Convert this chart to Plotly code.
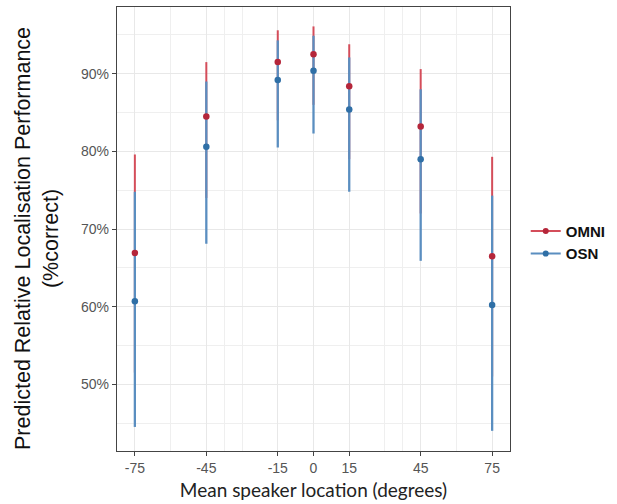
import plotly.graph_objects as go

locations = [-75, -45, -15, 0, 15, 45, 75]
x_tick_labels = ["-75", "-45", "-15", "0", "15", "45", "75"]

omni_mean = [0.669, 0.845, 0.915, 0.925, 0.884, 0.832, 0.665]
omni_low = [0.515, 0.740, 0.840, 0.860, 0.790, 0.720, 0.510]
omni_high = [0.796, 0.915, 0.956, 0.961, 0.938, 0.906, 0.793]

osn_mean = [0.607, 0.806, 0.892, 0.904, 0.854, 0.790, 0.602]
osn_low = [0.445, 0.681, 0.805, 0.823, 0.748, 0.659, 0.440]
osn_high = [0.748, 0.890, 0.943, 0.949, 0.921, 0.880, 0.743]

y_tick_vals = [0.5, 0.6, 0.7, 0.8, 0.9]
y_tick_labels = ["50%", "60%", "70%", "80%", "90%"]

red_line = "#d44d5a"
red_pt = "#b5263a"
blue_line = "#5a8ec0"
blue_pt = "#2f6fa6"

def bars(mean, lo, hi, color, thick):
    return dict(type="data", symmetric=False,
                array=[h - m for h, m in zip(hi, mean)],
                arrayminus=[m - l for m, l in zip(mean, lo)],
                color=color, thickness=thick, width=0)

fig = go.Figure()
fig.add_trace(go.Scatter(x=locations, y=omni_mean, mode="markers",
                         marker=dict(size=1, color="rgba(0,0,0,0)"),
                         error_y=bars(omni_mean, omni_low, omni_high, red_line, 2),
                         showlegend=False, hoverinfo="skip"))
fig.add_trace(go.Scatter(x=locations, y=osn_mean, mode="markers",
                         marker=dict(size=1, color="rgba(0,0,0,0)"),
                         error_y=bars(osn_mean, osn_low, osn_high, blue_line, 2.3),
                         showlegend=False, hoverinfo="skip"))
fig.add_trace(go.Scatter(x=locations, y=omni_mean, mode="markers",
                         marker=dict(size=6.5, color=red_pt), showlegend=False))
fig.add_trace(go.Scatter(x=locations, y=osn_mean, mode="markers",
                         marker=dict(size=6.5, color=blue_pt), showlegend=False))
fig.add_trace(go.Scatter(x=[None], y=[None], mode="lines+markers", name="OMNI",
                         line=dict(color=red_line, width=2),
                         marker=dict(size=6, color=red_pt)))
fig.add_trace(go.Scatter(x=[None], y=[None], mode="lines+markers", name="OSN",
                         line=dict(color=blue_line, width=2),
                         marker=dict(size=6, color=blue_pt)))

axis_common = dict(showline=True, mirror=True, linecolor="#444444", linewidth=1.3,
                   ticks="outside", ticklen=4, tickwidth=1, tickcolor="#444444",
                   gridcolor="#e8e8e8", gridwidth=1, zeroline=False,
                   tickfont=dict(family="Liberation Sans, Arial", size=14, color="#555555"))

fig.update_layout(
    width=617, height=504,
    margin=dict(l=117, r=107, t=7, b=53, autoexpand=False),
    plot_bgcolor="white", paper_bgcolor="white",
    xaxis=dict(range=[-82.5, 82.5], tickmode="array", tickvals=locations,
               ticktext=x_tick_labels,
               minor=dict(tickmode="array", tickvals=[-60, -37.5, -30, 30, 37.5, 60],
                          showgrid=True, gridcolor="#efefef", gridwidth=1, ticks=""),
               title=dict(text="Mean speaker location (degrees)",
                          font=dict(family="Lato, Liberation Sans", size=19, color="#222222"),
                          standoff=8),
               **axis_common),
    yaxis=dict(range=[0.414, 0.986], tickmode="array", tickvals=y_tick_vals,
               ticktext=y_tick_labels,
               minor=dict(tickmode="array", tickvals=[0.45, 0.55, 0.65, 0.75, 0.85, 0.95],
                          showgrid=True, gridcolor="#efefef", gridwidth=1, ticks=""),
               **axis_common),
    legend=dict(x=1.04, y=0.47, xanchor="left", yanchor="middle",
                font=dict(family="Liberation Sans, Arial", size=15, color="#111111",
                          weight="bold"),
                bgcolor="rgba(0,0,0,0)", tracegroupgap=0, itemwidth=30),
    showlegend=True,
    annotations=[dict(text="Predicted Relative Localisation Performance<br>(%correct)",
                      xref="paper", yref="paper", x=-0.203, y=0.478,
                      xanchor="center", yanchor="middle", textangle=-90, showarrow=False,
                      font=dict(family="Liberation Sans, Arial", size=21.5, color="#111111"))],
)

fig.write_html("out.html", config={"displayModeBar": False},
               post_script="document.body.style.margin='0px';document.body.style.overflow='hidden';")
